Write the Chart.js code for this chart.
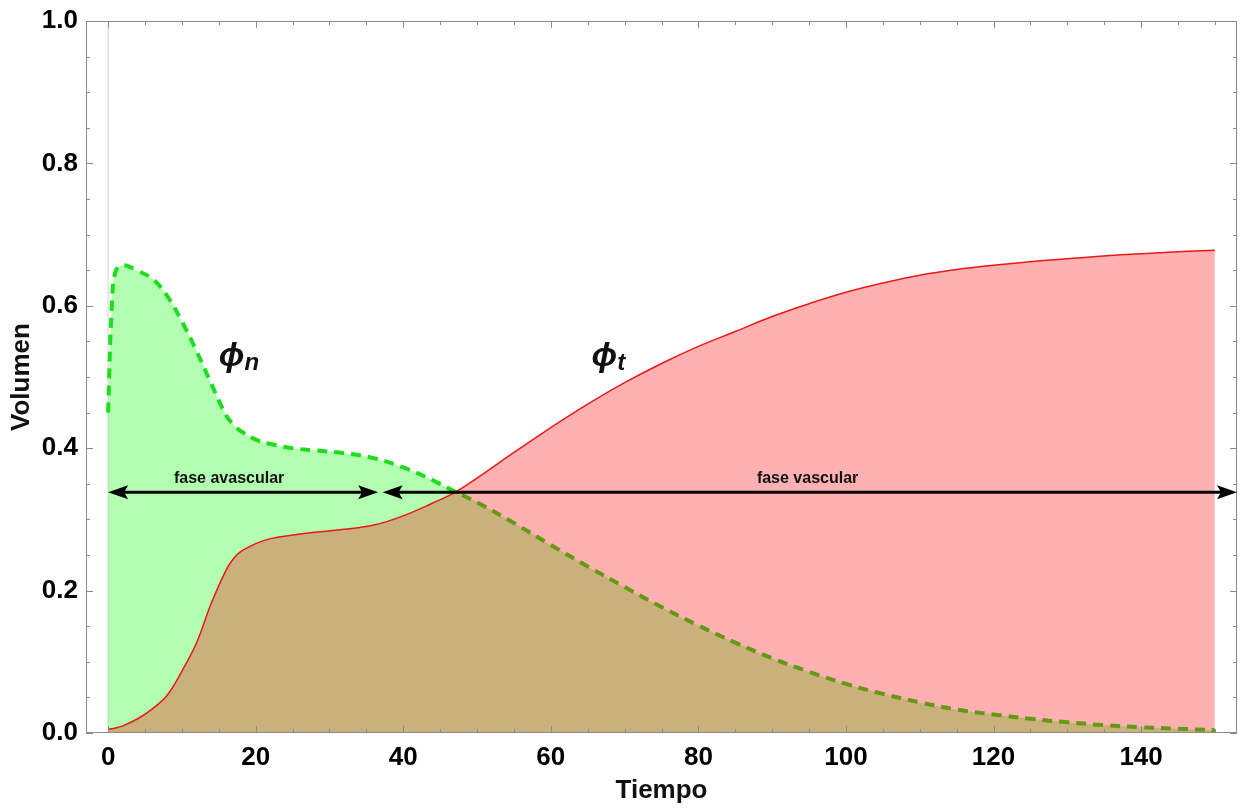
<!DOCTYPE html>
<html>
<head>
<meta charset="utf-8">
<script src="https://cdn.jsdelivr.net/npm/chart.js@4.4.1/dist/chart.umd.min.js"></script>
<style>
  html, body { margin: 0; padding: 0; background: #fff; }
  #wrap { width: 1242px; height: 810px; }
</style>
</head>
<body>
<div id="wrap"><canvas id="myChart"></canvas></div>
<script>
// time samples shared by both curves
const tiempo = [0, 0.5, 1, 2, 4, 6, 8, 10, 12, 14, 16, 17, 18, 20, 22, 25, 28, 32, 36, 40, 44, 47,
  50, 55, 60, 65, 70, 75, 80, 85, 90, 95, 100, 105, 110, 115, 120, 125, 130, 135, 140, 145, 150];

// phi_n (green, dashed)
const phiN = [0.45, 0.60, 0.648, 0.657, 0.649, 0.638, 0.614, 0.578, 0.536, 0.490, 0.446, 0.433, 0.424, 0.412,
  0.406, 0.400, 0.397, 0.393, 0.386, 0.373, 0.355, 0.339,
  0.324, 0.295, 0.264, 0.234, 0.205, 0.177, 0.151, 0.127, 0.105, 0.086, 0.069, 0.055, 0.043,
  0.033, 0.026, 0.020, 0.015, 0.011, 0.008, 0.006, 0.004];

// phi_t (red, solid)
const phiT = [0.005, 0.006, 0.007, 0.010, 0.020, 0.034, 0.053, 0.087, 0.127, 0.183, 0.229, 0.245, 0.255, 0.266,
  0.273, 0.278, 0.282, 0.286, 0.292, 0.305, 0.323, 0.338,
  0.358, 0.394, 0.429, 0.462, 0.492, 0.519, 0.543, 0.564, 0.585, 0.603, 0.619, 0.632, 0.643,
  0.651, 0.657, 0.662, 0.666, 0.670, 0.673, 0.676, 0.678];

const xTicks = [0, 20, 40, 60, 80, 100, 120, 140];
const yTicks = [0, 0.2, 0.4, 0.6, 0.8, 1.0];

const boldFont = '"Liberation Sans", Arial, sans-serif';

function toPoints(ys) {
  return tiempo.map((t, i) => ({ x: t, y: ys[i] }));
}

function arrow(ctx, x1, x2, y, headLeft, headRight) {
  const hl = 20, hw = 7;
  ctx.beginPath();
  ctx.moveTo(x1 + (headLeft ? hl - 4 : 0), y);
  ctx.lineTo(x2 - (headRight ? hl - 4 : 0), y);
  ctx.stroke();
  if (headLeft) {
    ctx.beginPath();
    ctx.moveTo(x1, y);
    ctx.lineTo(x1 + hl, y - hw);
    ctx.lineTo(x1 + hl - 4, y);
    ctx.lineTo(x1 + hl, y + hw);
    ctx.closePath();
    ctx.fill();
  }
  if (headRight) {
    ctx.beginPath();
    ctx.moveTo(x2, y);
    ctx.lineTo(x2 - hl, y - hw);
    ctx.lineTo(x2 - hl + 4, y);
    ctx.lineTo(x2 - hl, y + hw);
    ctx.closePath();
    ctx.fill();
  }
}

// light vertical line at x = 0, drawn under the fills
const zeroLine = {
  id: 'zeroLine',
  beforeDatasetsDraw(chart) {
    const { ctx, chartArea, scales } = chart;
    const px = scales.x.getPixelForValue(0);
    ctx.save();
    ctx.strokeStyle = '#d0d0d0';
    ctx.lineWidth = 1;
    ctx.beginPath();
    ctx.moveTo(px, chartArea.top);
    ctx.lineTo(px, chartArea.bottom);
    ctx.stroke();
    ctx.restore();
  }
};

// frame, inward ticks, arrows and labels
const frameAndNotes = {
  id: 'frameAndNotes',
  afterDatasetsDraw(chart) {
    const { ctx, chartArea: a, scales } = chart;
    const xs = scales.x, ys = scales.y;
    ctx.save();

    // frame
    ctx.strokeStyle = '#8a8a8a';
    ctx.lineWidth = 1;
    ctx.strokeRect(a.left + 0.5, a.top + 0.5, a.right - a.left - 1, a.bottom - a.top - 1);

    // ticks, majors every 20 / 0.2, minors every 5 / 0.05
    ctx.beginPath();
    for (let v = 0; v <= 150; v += 5) {
      const px = Math.round(xs.getPixelForValue(v)) + 0.5;
      const len = v % 20 === 0 ? 7 : 4;
      ctx.moveTo(px, a.bottom); ctx.lineTo(px, a.bottom - len);
      ctx.moveTo(px, a.top); ctx.lineTo(px, a.top + len);
    }
    for (let k = 0; k <= 20; k++) {
      const py = Math.round(ys.getPixelForValue(k * 0.05)) + 0.5;
      const len = k % 4 === 0 ? 7 : 4;
      ctx.moveTo(a.left, py); ctx.lineTo(a.left + len, py);
      ctx.moveTo(a.right, py); ctx.lineTo(a.right - len, py);
    }
    ctx.stroke();

    // phase arrows
    const ay = ys.getPixelForValue(0.338);
    ctx.strokeStyle = '#000';
    ctx.fillStyle = '#000';
    ctx.lineWidth = 3;
    arrow(ctx, xs.getPixelForValue(0), xs.getPixelForValue(36.6), ay, true, true);
    arrow(ctx, xs.getPixelForValue(37.2), xs.getPixelForValue(153), ay, true, true);

    ctx.font = 'bold 16px ' + boldFont;
    ctx.textAlign = 'center';
    ctx.textBaseline = 'middle';
    ctx.fillStyle = '#111';
    ctx.fillText('fase avascular', xs.getPixelForValue(16.4), ys.getPixelForValue(0.358));
    ctx.fillText('fase vascular', xs.getPixelForValue(94.8), ys.getPixelForValue(0.358));

    // phi labels
    ctx.textAlign = 'left';
    ctx.textBaseline = 'alphabetic';
    const phi = (x, y, sub) => {
      const px = xs.getPixelForValue(x), py = ys.getPixelForValue(y);
      ctx.font = 'italic bold 34px ' + boldFont;
      ctx.fillText('\u03D5', px, py);
      const w = ctx.measureText('\u03D5').width;
      ctx.font = 'italic bold 24px ' + boldFont;
      ctx.fillText(sub, px + w, py + 4);
    };
    phi(15.0, 0.515, 'n');
    phi(65.5, 0.515, 't');

    ctx.restore();
  }
};

const ctx = document.getElementById('myChart').getContext('2d');
const myChart = new Chart(ctx, {
  type: 'line',
  data: {
    datasets: [
      {
        label: 'phi_n',
        data: toPoints(phiN),
        borderColor: '#1fdc1f',
        borderWidth: 4,
        borderDash: [10, 7],
        backgroundColor: 'rgba(0, 255, 0, 0.3)',
        fill: 'origin',
        pointRadius: 0,
        tension: 0.4,
        order: 2
      },
      {
        label: 'phi_t',
        data: toPoints(phiT),
        borderColor: '#e81818',
        borderWidth: 1.5,
        backgroundColor: 'rgba(255, 0, 0, 0.31)',
        fill: 'origin',
        pointRadius: 0,
        tension: 0.4,
        order: 1
      }
    ]
  },
  options: {
    responsive: true,
    maintainAspectRatio: false,
    animation: false,
    layout: { padding: { top: 21, right: 5, left: 0, bottom: 0 } },
    plugins: {
      legend: { display: false },
      tooltip: { enabled: false }
    },
    scales: {
      x: {
        type: 'linear',
        min: -3,
        max: 153,
        afterBuildTicks: s => { s.ticks = xTicks.map(v => ({ value: v })); },
        afterFit: s => { s.height = 77; },
        grid: { display: false },
        border: { display: false },
        ticks: {
          autoSkip: false,
          maxRotation: 0,
          padding: 1,
          color: '#000',
          font: { family: boldFont, size: 26, weight: 'bold' },
          callback: v => String(v)
        },
        title: {
          display: true,
          text: 'Tiempo',
          color: '#111',
          font: { family: boldFont, size: 26, weight: 'bold' },
          padding: { top: 0, bottom: 4 }
        }
      },
      y: {
        min: 0,
        max: 1,
        afterBuildTicks: s => { s.ticks = yTicks.map(v => ({ value: v })); },
        afterFit: s => { s.width = 86; },
        grid: { display: false },
        border: { display: false },
        ticks: {
          padding: 0,
          color: '#000',
          font: { family: boldFont, size: 26, weight: 'bold' },
          callback: v => v.toFixed(1)
        },
        title: {
          display: true,
          text: 'Volumen',
          color: '#111',
          font: { family: boldFont, size: 26, weight: 'bold' },
          padding: { top: 6, bottom: 0 }
        }
      }
    }
  },
  plugins: [zeroLine, frameAndNotes]
});
</script>
</body>
</html>
